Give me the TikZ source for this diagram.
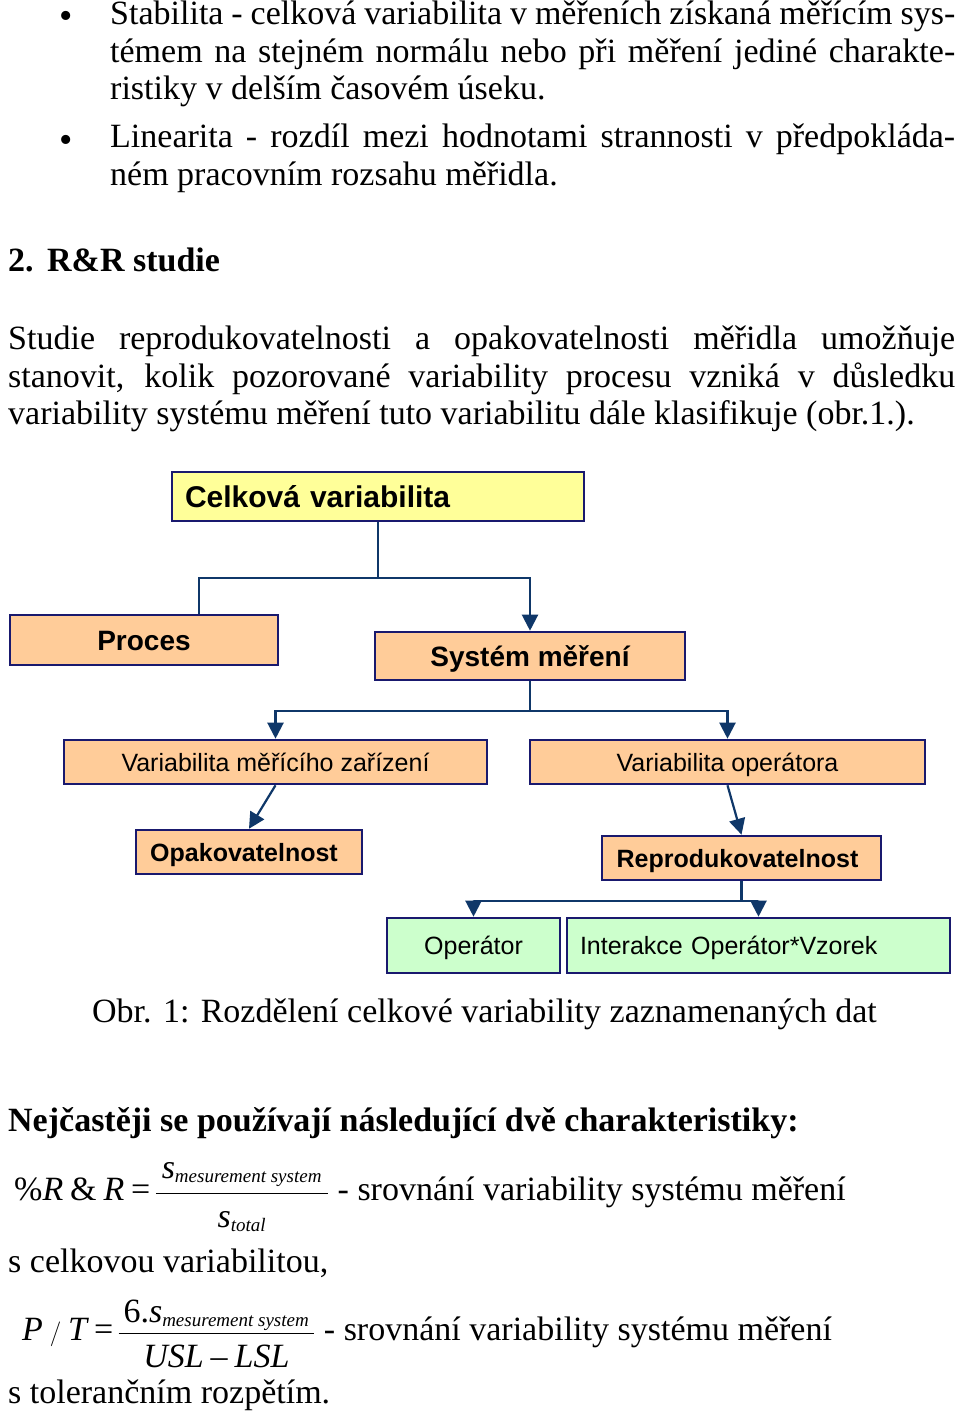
\documentclass[tikz,border=0pt]{standalone}
\usepackage{amsmath}
\usepackage{fontspec}
\setmainfont{Liberation Serif}
\setsansfont{Liberation Sans}
\usetikzlibrary{arrows.meta,positioning}
\definecolor{boxline}{RGB}{25,25,110}
\definecolor{linkblue}{RGB}{15,55,105}
\definecolor{yel}{RGB}{255,255,153}
\definecolor{peach}{RGB}{255,204,153}
\definecolor{mint}{RGB}{204,255,204}
\tikzstyle{box}=[draw=boxline, line width=2.6pt, inner sep=0pt, text depth=0pt]
\tikzstyle{lvla}=[font=\sffamily\fontsize{30}{36}\selectfont\bfseries, text height=21.5pt]
\tikzstyle{lvlb}=[font=\sffamily\fontsize{28}{34}\selectfont\bfseries, text height=20pt]
\tikzstyle{lvlc}=[font=\sffamily\fontsize{25}{30}\selectfont, text height=18pt]
\tikzstyle{lvlcb}=[font=\sffamily\fontsize{25}{30}\selectfont\bfseries, text height=18pt]
\tikzstyle{link}=[draw=linkblue, line width=2.2pt]
\tikzstyle{txt}=[anchor=base west, inner sep=0pt, font=\fontsize{34}{40}\selectfont]
\newcommand{\bodyfont}{\fontsize{34}{40}\selectfont}
\newcommand{\bigbullet}{{\fontsize{38}{38}\selectfont\textbullet}}
\newcommand{\subtxt}[1]{\mbox{\fontsize{19}{20}\selectfont\itshape #1}}

\begin{document}
\begin{tikzpicture}[x=1pt,y=-1pt,>={Triangle[width=16pt,length=16pt]}]
\useasboundingbox (0,0) rectangle (960,1416);
% text above the figure
\node[txt] (b1) at (59,28) {\bigbullet};
\node[txt] (l1) at (110,24) {\makebox[845pt][s]{Stabilita - celková variabilita v měřeních získaná měřícím sys-}};
\node[txt] (l2) at (110,62) {\makebox[845pt][s]{témem na stejném normálu nebo při měření jediné charakte-}};
\node[txt] (l3) at (110,99) {ristiky v delším časovém úseku.};
\node[txt] (b2) at (59,152) {\bigbullet};
\node[txt] (l4) at (110,147) {\makebox[845pt][s]{Linearita - rozdíl mezi hodnotami strannosti v předpokláda-}};
\node[txt] (l5) at (110,185) {ném pracovním rozsahu měřidla.};
\node[txt,font=\bodyfont\bfseries] (h1) at (8,271) {2.};
\node[txt,font=\bodyfont\bfseries] (h1t) at (47,271) {R\&R studie};
\node[txt] (p1) at (8,349) {\makebox[947pt][s]{Studie reprodukovatelnosti a opakovatelnosti měřidla umožňuje}};
\node[txt] (p2) at (8,387) {\makebox[947pt][s]{stanovit, kolik pozorované variability procesu vzniká v důsledku}};
\node[txt] (p3) at (8,424) {variability systému měření tuto variabilitu dále klasifikuje (obr.1.).};

% boxes
\node[box,lvla,fill=yel,minimum width=412pt,minimum height=49pt,text width=386pt] (cel) at (378,496.5) {Celková variabilita};
\node[box,lvlb,fill=peach,minimum width=268pt,minimum height=50pt] (proc) at (144,640) {Proces};
\node[box,lvlb,fill=peach,minimum width=310pt,minimum height=48pt] (sys) at (530,656) {Systém měření};
\node[box,lvlc,fill=peach,minimum width=423pt,minimum height=44pt] (varm) at (275.5,762) {Variabilita měřícího zařízení};
\node[box,lvlc,fill=peach,minimum width=395pt,minimum height=44pt] (varo) at (727.5,762) {Variabilita operátora};
\node[box,lvlcb,fill=peach,minimum width=226pt,minimum height=44pt] (opak) at (249,852) {\hspace*{-10pt}Opakovatelnost};
\node[box,lvlcb,fill=peach,minimum width=279pt,minimum height=44pt] (repro) at (741.5,858) {\hspace*{-8pt}Reprodukovatelnost};
\node[box,lvlc,fill=mint,minimum width=173pt,minimum height=55pt] (oper) at (473.5,945.5) {Operátor};
\node[box,lvlc,fill=mint,minimum width=383pt,minimum height=55pt,text width=357pt] (inter) at (758.5,945.5) {Interakce Operátor*Vzorek};

% connectors
\draw[link] (cel.south) -- ++(0,56) coordinate (j1) -| ([xshift=55pt]proc.north);
\draw[link,->] (j1) -| (sys.north);
\draw[link] (sys.south) -- ++(0,30) coordinate (j2);
\draw[link,->] (j2) -| (varm.north);
\draw[link,->] (j2) -| (varo.north);
\draw[link,->] (varm.south) -- (opak.north);
\draw[link,->] (varo.south) -- (repro.north);
\draw[link] (repro.south) -- ++(0,20) coordinate (j3);
\draw[link,->] (j3) -| (oper.north);
\draw[link,->] (j3) -| (inter.north);

% text below the figure
\node[txt] (cap) at (92,1022) {Obr. 1: Rozdělení celkové variability zaznamenaných dat};
\node[txt,font=\bodyfont\bfseries] (h2) at (8,1131) {Nejčastěji se používají následující dvě charakteristiky:};
\node[txt] (f1) at (14,1200) {$\%\textit{R}\;\&\;\textit{R}\;\text{=}\,\dfrac{\hspace{6pt}\rule[-12pt]{0pt}{12pt}\textit{s}_{\subtxt{mesurement system}}\hspace{6pt}}{\rule{0pt}{30pt}\textit{s}_{\subtxt{total}}}$ - srovnání variability systému měření};
\node[txt] (t1) at (8,1272) {s celkovou variabilitou,};
\node[txt] (f2) at (22,1340) {$\textit{P}\;/\;\textit{T}\;\text{=}\,\dfrac{\hspace{5pt}\rule[-8pt]{0pt}{8pt}\text{6.}\textit{s}_{\subtxt{mesurement system}}\hspace{5pt}}{\rule{0pt}{30pt}\textit{USL}\;\text{–}\;\textit{LSL}}$ - srovnání variability systému měření};
\node[txt] (t2) at (8,1403) {s tolerančním rozpětím.};
\end{tikzpicture}
\end{document}
